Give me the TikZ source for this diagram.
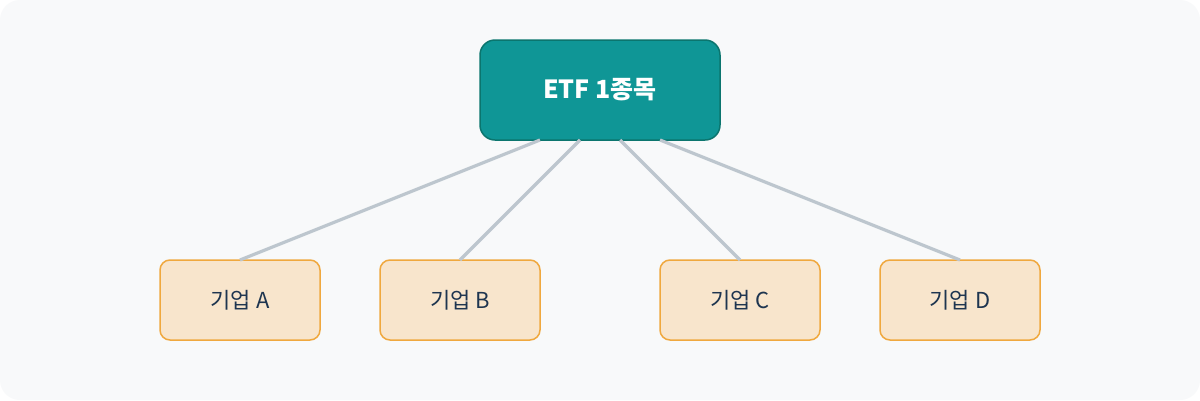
\documentclass[tikz,border=0pt]{standalone}
\usepackage{fontspec}
\setmainfont{Noto Sans CJK KR}
\definecolor{bgc}{HTML}{F8F9FA}
\definecolor{tealf}{HTML}{0F9696}
\definecolor{teald}{HTML}{0B756E}
\definecolor{boxf}{HTML}{F8E5CC}
\definecolor{boxd}{HTML}{F0A83E}
\definecolor{linec}{HTML}{BDC6CE}
\definecolor{txtc}{HTML}{1E3550}
\tikzset{
  topbox/.style={draw=teald, fill=tealf, line width=1.5pt, rounded corners=15pt,
    minimum width=240pt, minimum height=100pt, inner sep=0pt,
    text=white, font=\fontsize{25pt}{30pt}\selectfont\bfseries},
  firmbox/.style={draw=boxd, fill=boxf, line width=1.5pt, rounded corners=10pt,
    minimum width=160pt, minimum height=80pt, inner sep=0pt,
    text=txtc, font=\fontsize{22pt}{26pt}\selectfont},
  link/.style={draw=linec, line width=3.2pt}
}
\begin{document}
\begin{tikzpicture}[x=1pt,y=-1pt]
\useasboundingbox (0,0) rectangle (1200,400);
\fill[white] (0,0) rectangle (1200,400);
\fill[bgc, rounded corners=20pt] (0,0) rectangle (1200,400);
\node[topbox] (top) at (600,90) {ETF 1종목};
\node[firmbox] (a) at (240,300) {기업 A};
\node[firmbox] (b) at (460,300) {기업 B};
\node[firmbox] (c) at (740,300) {기업 C};
\node[firmbox] (d) at (960,300) {기업 D};
\draw[link] ([xshift=-60pt,yshift=0.75pt]top.south) -- ([yshift=-0.75pt]a.north);
\draw[link] ([xshift=-20pt,yshift=0.75pt]top.south) -- ([yshift=-0.75pt]b.north);
\draw[link] ([xshift=20pt,yshift=0.75pt]top.south) -- ([yshift=-0.75pt]c.north);
\draw[link] ([xshift=60pt,yshift=0.75pt]top.south) -- ([yshift=-0.75pt]d.north);
\end{tikzpicture}
\end{document}
